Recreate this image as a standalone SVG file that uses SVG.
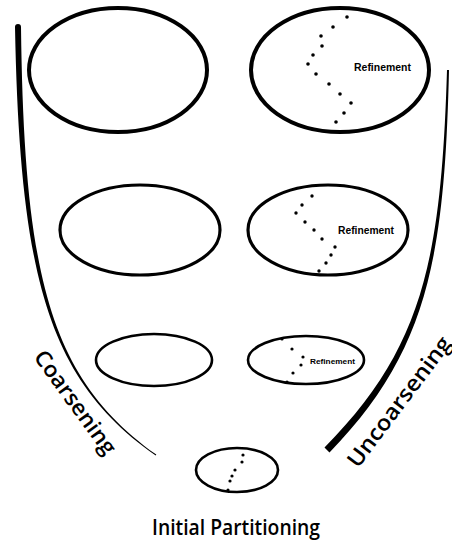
<svg xmlns="http://www.w3.org/2000/svg" width="452" height="543" viewBox="0 0 452 543">
<style>
.e{fill:none;stroke:#000}
.d{fill:#000}
.lbl{font-family:"Open Sans","DejaVu Sans",sans-serif;font-weight:600;fill:#000}
.ref{font-family:"Liberation Sans","DejaVu Sans",sans-serif;font-weight:bold;fill:#000}
</style>
<rect width="452" height="543" fill="#fff"/>
<g id="connectors">
<path d="M21,27 C24.1,279.4 50.7,379 156.3,454.6 L155.7,455.4 C49.3,381 19.9,280.6 15,27 A3,3 0 0 1 21,27 Z" fill="#000"/>
<path d="M449,70 C444.5,260 427.2,351.7 329.5,452.5 L324.5,447.5 C422.8,348.3 441.2,260 447,70 Z" fill="#000"/>
</g>
<g id="level1-coarse">
<ellipse class="e" cx="118" cy="70" rx="89" ry="62" stroke-width="4"/>
</g>
<g id="level1-refined">
<ellipse class="e" cx="340" cy="70" rx="89" ry="62" stroke-width="4"/>
<g class="d">
<circle cx="347" cy="17" r="1.8"/><circle cx="333" cy="27" r="1.8"/><circle cx="321" cy="36" r="1.8"/><circle cx="322" cy="46" r="1.8"/><circle cx="313" cy="55" r="1.8"/><circle cx="308" cy="64" r="1.8"/><circle cx="316" cy="74" r="1.8"/><circle cx="329" cy="84" r="1.8"/><circle cx="340" cy="94" r="1.8"/><circle cx="351" cy="103" r="1.8"/><circle cx="344" cy="113" r="1.8"/><circle cx="336" cy="122" r="1.8"/>
</g>
<text class="ref" x="354" y="71" font-size="11" textLength="57" lengthAdjust="spacingAndGlyphs">Refinement</text>
</g>
<g id="level2-coarse">
<ellipse class="e" cx="140" cy="230" rx="80" ry="45" stroke-width="3.2"/>
</g>
<g id="level2-refined">
<ellipse class="e" cx="328" cy="230" rx="80" ry="45" stroke-width="3.2"/>
<g class="d">
<circle cx="312" cy="196" r="1.7"/><circle cx="302" cy="205" r="1.7"/><circle cx="296" cy="213" r="1.7"/><circle cx="305" cy="222" r="1.7"/><circle cx="314" cy="230" r="1.7"/><circle cx="322" cy="239" r="1.7"/><circle cx="335" cy="247" r="1.7"/><circle cx="331" cy="255" r="1.7"/><circle cx="326" cy="263" r="1.7"/><circle cx="319" cy="271" r="1.7"/>
</g>
<text class="ref" x="338" y="234" font-size="11" textLength="56" lengthAdjust="spacingAndGlyphs">Refinement</text>
</g>
<g id="level3-coarse">
<ellipse class="e" cx="154" cy="360" rx="58" ry="26" stroke-width="2.6"/>
</g>
<g id="level3-refined">
<ellipse class="e" cx="306" cy="360" rx="58" ry="24" stroke-width="2.6"/>
<g class="d">
<circle cx="282" cy="339" r="1.6"/><circle cx="292" cy="349" r="1.6"/><circle cx="303" cy="357" r="1.6"/><circle cx="301" cy="365" r="1.6"/><circle cx="293" cy="373" r="1.6"/><circle cx="287" cy="382" r="1.6"/>
</g>
<text class="ref" x="310" y="364" font-size="8" textLength="45" lengthAdjust="spacingAndGlyphs">Refinement</text>
</g>
<g id="initial">
<ellipse class="e" cx="237" cy="470" rx="41" ry="22" stroke-width="2.6"/>
<g class="d">
<circle cx="243" cy="455" r="1.6"/><circle cx="242" cy="462" r="1.6"/><circle cx="235" cy="470" r="1.6"/><circle cx="232" cy="476" r="1.6"/><circle cx="230" cy="481" r="1.6"/><circle cx="228" cy="490" r="1.6"/>
</g>
</g>
<g id="labels">
<text class="lbl" font-size="22" transform="translate(33,357) rotate(54)" textLength="123" lengthAdjust="spacingAndGlyphs">Coarsening</text>
<text class="lbl" font-size="22" transform="translate(358,469) rotate(-53)" textLength="157" lengthAdjust="spacingAndGlyphs">Uncoarsening</text>
<text class="lbl" font-size="22" x="152" y="535" textLength="168" lengthAdjust="spacingAndGlyphs">Initial Partitioning</text>
</g>
</svg>
